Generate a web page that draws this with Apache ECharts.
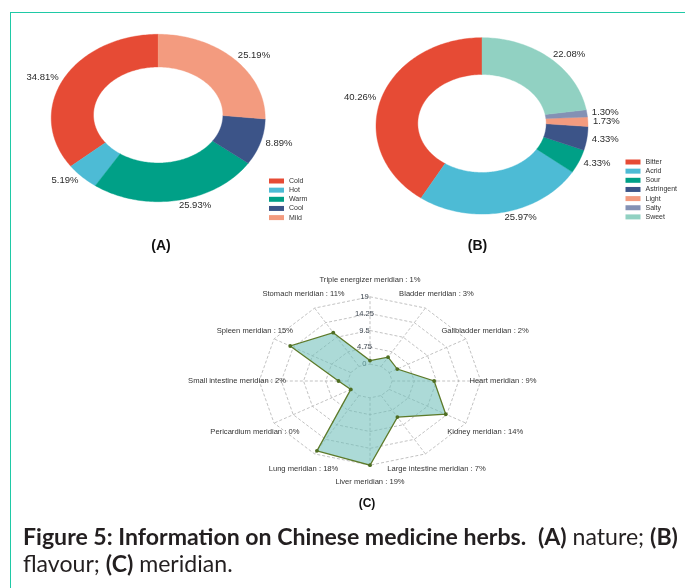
<!DOCTYPE html>
<html><head><meta charset="utf-8">
<script src="https://cdn.jsdelivr.net/npm/echarts@6/dist/echarts.min.js"></script>
<style>
html,body{margin:0;padding:0;background:#fff;}
#frame{position:absolute;left:10px;top:11.5px;width:680px;height:580px;border-top:1.6px solid #1fc9a6;border-left:1.6px solid #1fc9a6;}
#main{position:absolute;left:0;top:0;width:685px;height:588px;}
</style></head><body>
<div id="frame"></div>
<div id="main"></div>
<script>
// ---- data ----
const natureNames = ['Cold', 'Hot', 'Warm', 'Cool', 'Mild'];
const natureValues = [34.81, 5.19, 25.93, 8.89, 25.19];
const natureColors = ['#E64B35', '#4DBBD5', '#00A087', '#3C5488', '#F39B7F'];

const flavourNames = ['Bitter', 'Acrid', 'Sour', 'Astringent', 'Light', 'Salty', 'Sweet'];
const flavourValues = [40.26, 25.97, 4.33, 4.33, 1.73, 1.30, 22.08];
const flavourColors = ['#E64B35', '#4DBBD5', '#00A087', '#3C5488', '#F39B7F', '#8491B4', '#91D1C2'];

const meridianNames = ['Triple energizer meridian', 'Bladder meridian', 'Gallbladder meridian', 'Heart meridian',
  'Kidney meridian', 'Large intestine meridian', 'Liver meridian', 'Lung meridian', 'Pericardium meridian',
  'Small intestine meridian', 'Spleen meridian', 'Stomach meridian'];
const meridianValues = [1, 3, 2, 9, 14, 7, 19, 18, 0, 2, 15, 11];
const radarTicks = [0, 4.75, 9.5, 14.25, 19];

// ---- helpers ----
const FONT = '"Liberation Sans", Arial, sans-serif';

function donutSeries(names, values, colors, g) {
  const total = values.reduce((a, b) => a + b, 0);
  const cum = [0];
  values.forEach((v, i) => cum.push(cum[i] + v));
  return names.map((name, i) => ({
    type: 'custom',
    name: name,
    coordinateSystem: 'none',
    silent: true,
    itemStyle: { color: colors[i] },
    data: [values[i]],
    renderItem: function (params, api) {
      const a0 = (90 + 360 * cum[i] / total) * Math.PI / 180;
      const a1 = (90 + 360 * cum[i + 1] / total) * Math.PI / 180;
      const n = Math.max(2, Math.ceil((a1 - a0) / 0.02));
      const pts = [];
      for (let k = 0; k <= n; k++) {
        const t = a0 + (a1 - a0) * k / n;
        pts.push([g.cx + g.rx * Math.cos(t), g.cy - g.ry * Math.sin(t)]);
      }
      for (let k = n; k >= 0; k--) {
        const t = a0 + (a1 - a0) * k / n;
        pts.push([g.cx + g.irx * Math.cos(t), g.icy - g.iry * Math.sin(t)]);
      }
      const m = (a0 + a1) / 2, c = Math.cos(m), s = Math.sin(m);
      const px = g.cx + g.rx * c + 5 * c;
      const py = g.cy - g.ry * s - 5 * s;
      return {
        type: 'group',
        children: [
          { type: 'polygon', shape: { points: pts }, style: { fill: colors[i], stroke: colors[i], lineWidth: 0.4 } },
          { type: 'text', x: px, y: py, style: {
              text: api.value(0).toFixed(2) + '%', align: c >= 0 ? 'left' : 'right', verticalAlign: 'middle',
              fontSize: 9.5, fontFamily: FONT, fill: '#2a2a2a' } }
        ]
      };
    }
  }));
}

const seg = radarTicks.length - 1;
const rMax = radarTicks[seg];
const nAx = meridianNames.length;
const ang = i => Math.PI / 2 - 2 * Math.PI * i / nAx;
const fr = v => (1 + seg * v / rMax) / (seg + 1);

const radarBase = { type: 'custom', coordinateSystem: 'cartesian2d', xAxisIndex: 0, yAxisIndex: 0, clip: false, silent: true };

const ringSeries = Object.assign({}, radarBase, {
  z: 1,
  data: radarTicks.map(t => [t, 0]),
  renderItem: function (p, api) {
    const f = fr(api.value(0));
    const pts = [];
    for (let i = 0; i <= nAx; i++) {
      const a = ang(i % nAx);
      pts.push(api.coord([f * Math.cos(a), f * Math.sin(a)]));
    }
    return { type: 'polyline', shape: { points: pts }, style: { stroke: '#b3b3b3', lineWidth: 0.8, lineDash: [3, 2], fill: null } };
  }
});

const spokeSeries = Object.assign({}, radarBase, {
  z: 1,
  data: meridianNames.map((n, i) => [i, 0]),
  renderItem: function (p, api) {
    const a = ang(api.value(0));
    const p0 = api.coord([fr(0) * Math.cos(a), fr(0) * Math.sin(a)]);
    const p1 = api.coord([Math.cos(a), Math.sin(a)]);
    return { type: 'line', shape: { x1: p0[0], y1: p0[1], x2: p1[0], y2: p1[1] }, style: { stroke: '#b3b3b3', lineWidth: 0.8, lineDash: [3, 2] } };
  }
});

const tickSeries = Object.assign({}, radarBase, {
  z: 2,
  data: radarTicks.map(t => [t, 0]),
  renderItem: function (p, api) {
    const t = api.value(0);
    const pt = api.coord([-0.05, fr(t)]);
    return { type: 'text', x: pt[0], y: pt[1], style: { text: String(t), align: 'center', verticalAlign: 'middle', fontSize: 7.6, fontFamily: FONT, fill: '#3d4650' } };
  }
});

const polySeries = Object.assign({}, radarBase, {
  z: 3,
  data: meridianValues.map((v, i) => [i, v]),
  renderItem: function (p, api) {
    const a = ang(api.value(0)), f = fr(api.value(1));
    const pt = api.coord([f * Math.cos(a), f * Math.sin(a)]);
    const children = [];
    if (p.dataIndex === 0) {
      const pts = meridianValues.map((v, i) => api.coord([fr(v) * Math.cos(ang(i)), fr(v) * Math.sin(ang(i))]));
      children.push({ type: 'polygon', shape: { points: pts }, style: { fill: 'rgba(112,192,186,0.58)', stroke: '#5d7a2a', lineWidth: 1.3 } });
    }
    children.push({ type: 'circle', shape: { cx: pt[0], cy: pt[1], r: 1.9 }, style: { fill: '#4f6e22' }, z2: 5 });
    return { type: 'group', children: children };
  }
});

const nameSeries = Object.assign({}, radarBase, {
  z: 4,
  data: meridianValues.map((v, i) => [i, v]),
  renderItem: function (p, api) {
    const i = api.value(0);
    const a = ang(i);
    const pt = api.coord([1.2 * Math.cos(a), 1.2 * Math.sin(a)]);
    return { type: 'text', x: pt[0], y: pt[1], style: {
      text: meridianNames[i] + ' : ' + api.value(1) + '%', align: 'center', verticalAlign: 'middle',
      fontSize: 7.6, fontFamily: FONT, fill: '#333' } };
  }
});

const geomA = { cx: 158.2, cy: 118, rx: 107, ry: 83.7, irx: 64.7, iry: 48, icy: 115 };
const geomB = { cx: 482, cy: 125.9, rx: 106, ry: 88.2, irx: 64.2, iry: 49, icy: 123.5 };

const legendCommon = {
  orient: 'vertical', icon: 'rect', itemWidth: 15, itemHeight: 5, itemGap: 0.15, padding: 0,
  selectedMode: false, textStyle: { fontSize: 7, lineHeight: 9, color: '#333', fontFamily: FONT }
};

const chart = echarts.init(document.getElementById('main'), null, { renderer: 'canvas' });
chart.setOption({
  animation: false,
  backgroundColor: 'transparent',
  legend: [
    Object.assign({ data: natureNames, left: 269, top: 176.5 }, legendCommon),
    Object.assign({ data: flavourNames, left: 625.5, top: 157.5 }, legendCommon)
  ],
  grid: { left: 259.2, top: 296.8, width: 221.6, height: 168.4 },
  xAxis: { type: 'value', min: -1, max: 1, show: false },
  yAxis: { type: 'value', min: -1, max: 1, show: false },
  series: []
    .concat(donutSeries(natureNames, natureValues, natureColors, geomA))
    .concat(donutSeries(flavourNames, flavourValues, flavourColors, geomB))
    .concat([ringSeries, spokeSeries, tickSeries, polySeries, nameSeries]),
  graphic: [
    { type: 'text', x: 161, y: 246, style: { text: '(A)', align: 'center', verticalAlign: 'middle', fontSize: 14, fontWeight: 'bold', fontFamily: FONT, fill: '#111' } },
    { type: 'text', x: 477.5, y: 246.5, style: { text: '(B)', align: 'center', verticalAlign: 'middle', fontSize: 14, fontWeight: 'bold', fontFamily: FONT, fill: '#111' } },
    { type: 'text', x: 367, y: 504, style: { text: '(C)', align: 'center', verticalAlign: 'middle', fontSize: 12, fontWeight: 'bold', fontFamily: FONT, fill: '#111' } },
    { type: 'text', x: 23, y: 524, style: {
        text: '{b|Figure 5: Information on Chinese medicine herbs.}{n|  }{b|(A)}{n| nature; }{b|(B)}\n{n|flavour; }{b|(C)}{n| meridian.}',
        verticalAlign: 'top', align: 'left',
        rich: {
          b: { fontFamily: 'Lato', fontWeight: 'bold', fontSize: 23.1, fill: '#231f20', color: '#231f20', lineHeight: 27 },
          n: { fontFamily: 'Lato', fontWeight: 'normal', fontSize: 23.1, fill: '#231f20', color: '#231f20', lineHeight: 27 }
        } } }
  ]
});
</script>
</body></html>
